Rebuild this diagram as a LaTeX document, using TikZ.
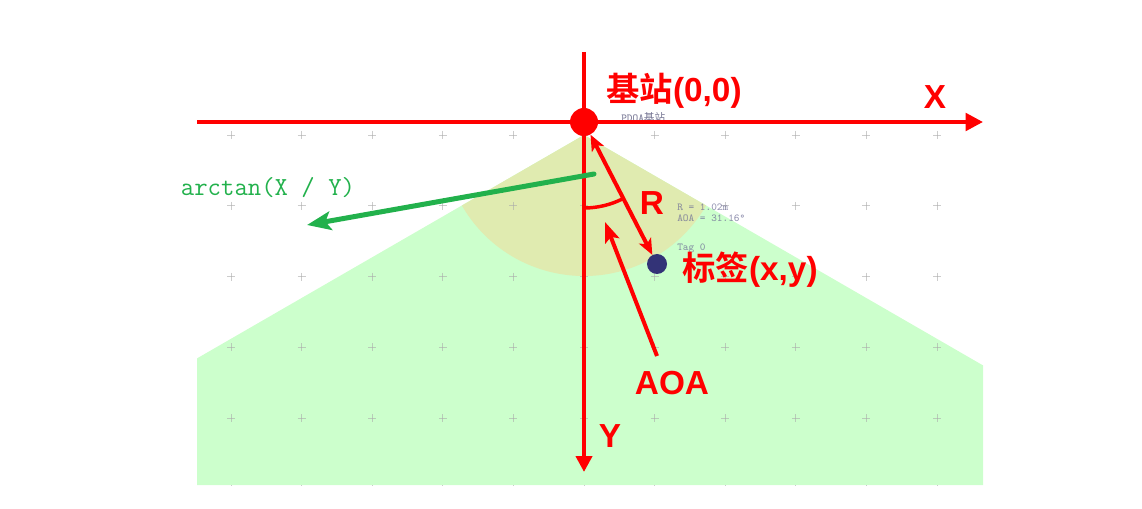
\documentclass[tikz,border=0pt]{standalone}
\usepackage{fontspec}
\setmainfont{Liberation Sans}
\newfontfamily\cjk{Noto Sans CJK SC}[BoldFont={Noto Sans CJK SC Bold}]
\usetikzlibrary{arrows.meta}

\tikzset{
	axisline/.style={draw=red, line width=3pt, -{Triangle[length=13pt,width=13pt]}},
	redarrow/.style={draw=red, line width=3pt},
	biglabel/.style={color=red, font=\fontsize{25}{30}\selectfont\bfseries, inner sep=0pt},
	smalllabel/.style={color={rgb, 255:red, 110; green, 110; blue, 150}, opacity=0.75, font=\ttfamily\fontsize{8}{9}\selectfont, inner sep=0pt, anchor=west},
	gridmark/.style={draw={rgb, 255:red, 170; green, 170; blue, 170}, draw opacity=0.6, line width=0.6pt}
}

\begin{document}
\begin{tikzpicture}[x=0.75pt,y=0.75pt,yscale=-1,xscale=1]
		\path [use as bounding box] (0,0) rectangle (1142,509);
		
		% coverage area
		\fill [color={rgb, 255:red, 204; green, 255; blue, 204 }] (584,135) -- (197,358.4) -- (197,485) -- (983,485) -- (983,365.4) -- cycle;
		\fill [color={rgb, 255:red, 224; green, 235; blue, 176 }] (584,135) -- +(150:141) arc [start angle=150, end angle=30, radius=141] -- cycle;
		
		% grid marks
		\begin{scope}
			\clip (0,0) rectangle (1142,485);
			\foreach \i in {-5,...,5}
			\foreach \j in {0,...,5}
			{
				\draw [gridmark] (584+70.6*\i-4, 135+70.8*\j) -- ++(8,0);
				\draw [gridmark] (584+70.6*\i, 135+70.8*\j-4) -- ++(0,8);
			}
		\end{scope}
		
		\node (pdoa) at (621,117) [smalllabel, color={rgb, 255:red, 70; green, 70; blue, 110 }] {PDOA{\cjk 基站}};
		\node (rval) at (677,207) [smalllabel] {R = 1.02m};
		\node (aoaval) at (677,218) [smalllabel] {AOA = 31.16\textdegree};
		\node (tagname) at (677,248) [smalllabel] {Tag 0};
		
		% axes
		\coordinate (xbeg) at (197,122);
		\coordinate (xend) at (983,122);
		\coordinate (ybeg) at (584,52);
		\coordinate (yend) at (584,472);
		\draw [axisline] (xbeg) -- (xend);
		\draw [axisline, -{Triangle[length=12pt,width=12pt]}] (ybeg) -- (yend);
		
		\node (station) at (584,122) [circle, fill=red, inner sep=0pt, minimum size=21pt] {};
		\node (tag) at (657,264) [circle, fill={rgb, 255:red, 51; green, 51; blue, 119 }, inner sep=0pt, minimum size=15pt] {};
		
		% distance and angle
		\draw [redarrow, {Stealth[length=12pt,width=10pt,inset=3pt]}-{Stealth[length=12pt,width=10pt,inset=3pt]}] (station) -- (tag);
		\draw [redarrow, line width=2.6pt] (584,208) arc [start angle=90, end angle=63, radius=86];
		\coordinate (aoatail) at (657,356);
		\coordinate (aoatip) at (605,222);
		\draw [redarrow, -{Stealth[length=15pt,width=11pt,inset=3pt]}] (aoatail) -- (aoatip);
		
		% arctan hint
		\coordinate (arcbeg) at (594,174);
		\coordinate (arcend) at (307,225);
		\draw [color={rgb, 255:red, 34; green, 177; blue, 76 }, line width=3.75pt, line cap=round, -{Stealth[length=18pt,width=14pt,inset=4pt]}] (arcbeg) -- (arcend);
		
		\node (arctan) at (268,188) [color={rgb, 255:red, 34; green, 177; blue, 76 }, font=\ttfamily\fontsize{19.5}{22}\selectfont, inner sep=0pt] {arctan(X / Y)};
		\node (stationlabel) at (674,91) [biglabel] {{\cjk\bfseries 基站}(0,0)};
		\node (xlabel) at (935,97) [biglabel] {X};
		\node (ylabel) at (610,436) [biglabel] {Y};
		\node (rlabel) at (652,203) [biglabel] {R};
		\node (taglabel) at (750,270) [biglabel] {{\cjk\bfseries 标签}(x,y)};
		\node (aoalabel) at (672,383) [biglabel] {AOA};
		
\end{tikzpicture}
\end{document}
